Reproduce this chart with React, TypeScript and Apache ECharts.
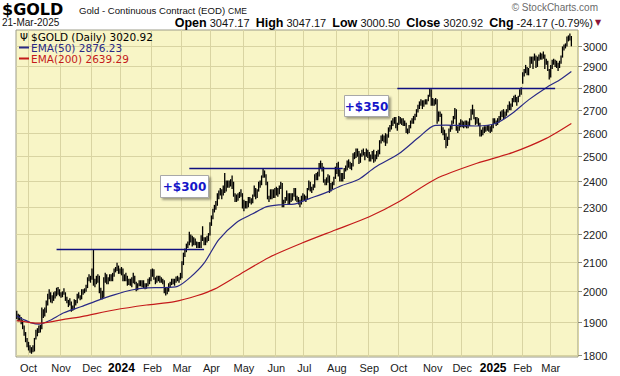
import React, { useEffect, useRef } from "react";
import * as echarts from "echarts";

// ---- data ----
const monthKeys = [
  "2023-09", "2023-10", "2023-11", "2023-12", "2024-01", "2024-02", "2024-03",
  "2024-04", "2024-05", "2024-06", "2024-07", "2024-08", "2024-09", "2024-10",
  "2024-11", "2024-12", "2025-01", "2025-02", "2025-03",
];
const firstTradingDay = "2023-09-20";
const holidays = [
  "2023-11-23", "2023-12-25", "2024-01-01", "2024-01-15", "2024-02-19", "2024-03-29",
  "2024-05-27", "2024-06-19", "2024-07-04", "2024-09-02", "2024-11-28", "2024-12-25",
  "2025-01-01", "2025-01-09", "2025-01-20", "2025-02-17",
];

const highs: number[][] = [
  [1935, 1925, 1922, 1915, 1905, 1888, 1868, 1850],
  [1838, 1828, 1822, 1828, 1850, 1875, 1880, 1888, 1890, 1945, 1940, 1945, 1968, 1990, 2005, 1995, 1985, 1995, 1998, 2010, 2012, 2005],
  [1995, 1998, 2008, 1995, 1980, 1970, 1975, 1965, 1952, 1972, 1970, 1990, 1995, 1985, 2005, 2005, 2008, 2020, 2045, 2055, 2050],
  [2075, 2140, 2040, 2050, 2055, 2050, 2010, 2000, 2045, 2060, 2055, 2045, 2055, 2055, 2060, 2075, 2080, 2095, 2085, 2075],
  [2080, 2075, 2055, 2060, 2050, 2040, 2040, 2045, 2060, 2050, 2030, 2025, 2035, 2035, 2035, 2035, 2025, 2025, 2040, 2045, 2072],
  [2075, 2072, 2045, 2050, 2050, 2050, 2045, 2040, 2035, 2010, 2010, 2025, 2030, 2040, 2040, 2040, 2048, 2050, 2045, 2060],
  [2100, 2130, 2145, 2162, 2170, 2205, 2195, 2190, 2185, 2180, 2170, 2168, 2168, 2192, 2225, 2185, 2185, 2190, 2200, 2240],
  [2265, 2290, 2305, 2320, 2350, 2360, 2370, 2365, 2380, 2430, 2400, 2400, 2400, 2405, 2420, 2395, 2350, 2345, 2350, 2355, 2365, 2350],
  [2325, 2320, 2320, 2335, 2335, 2330, 2345, 2380, 2370, 2365, 2395, 2400, 2420, 2450, 2440, 2425, 2395, 2340, 2365, 2365, 2365, 2370],
  [2375, 2370, 2380, 2395, 2390, 2325, 2335, 2360, 2350, 2350, 2350, 2350, 2370, 2370, 2340, 2335, 2325, 2340, 2350],
  [2345, 2340, 2370, 2400, 2395, 2375, 2385, 2425, 2430, 2435, 2470, 2480, 2470, 2455, 2405, 2412, 2425, 2420, 2390, 2395, 2415, 2455],
  [2470, 2475, 2445, 2430, 2430, 2450, 2460, 2480, 2485, 2475, 2470, 2510, 2515, 2530, 2530, 2520, 2510, 2525, 2530, 2515, 2530, 2525],
  [2515, 2505, 2520, 2525, 2505, 2520, 2525, 2565, 2585, 2590, 2585, 2595, 2590, 2620, 2630, 2650, 2660, 2665, 2665, 2640],
  [2670, 2665, 2660, 2660, 2650, 2640, 2615, 2630, 2650, 2660, 2670, 2680, 2700, 2720, 2735, 2745, 2740, 2740, 2745, 2745, 2765, 2795, 2790],
  [2750, 2745, 2750, 2745, 2690, 2690, 2680, 2620, 2610, 2595, 2580, 2615, 2630, 2650, 2670, 2705, 2700, 2625, 2640, 2655],
  [2650, 2645, 2650, 2650, 2645, 2660, 2700, 2720, 2700, 2665, 2665, 2660, 2640, 2610, 2620, 2625, 2625, 2630, 2630, 2625, 2630],
  [2660, 2660, 2650, 2660, 2670, 2690, 2695, 2700, 2690, 2700, 2720, 2735, 2725, 2750, 2760, 2765, 2755, 2760, 2790, 2800],
  [2870, 2885, 2905, 2895, 2890, 2945, 2945, 2945, 2960, 2950, 2945, 2955, 2965, 2960, 2970, 2955, 2935, 2925, 2885],
  [2905, 2930, 2935, 2930, 2925, 2915, 2925, 2950, 2995, 3005, 3010, 3045, 3050, 3060, 3047.17],
];
const lows: number[][] = [
  [1912, 1905, 1906, 1895, 1880, 1860, 1840, 1825],
  [1815, 1808, 1805, 1810, 1812, 1848, 1858, 1868, 1870, 1880, 1915, 1920, 1932, 1955, 1975, 1965, 1962, 1970, 1978, 1985, 1990, 1985],
  [1980, 1982, 1990, 1970, 1962, 1950, 1955, 1935, 1938, 1942, 1955, 1962, 1978, 1972, 1975, 1990, 1995, 2000, 2012, 2035, 2030],
  [2040, 2020, 2015, 2025, 2030, 1995, 1975, 1975, 1980, 2030, 2025, 2025, 2035, 2035, 2035, 2050, 2065, 2070, 2060, 2060],
  [2055, 2035, 2035, 2035, 2020, 2022, 2020, 2015, 2028, 2025, 2002, 2005, 2018, 2018, 2015, 2012, 2008, 2010, 2018, 2025, 2035],
  [2050, 2040, 2025, 2030, 2035, 2030, 2030, 2025, 1995, 1988, 1992, 2000, 2015, 2022, 2025, 2020, 2030, 2035, 2030, 2040],
  [2045, 2090, 2118, 2135, 2150, 2160, 2170, 2155, 2160, 2160, 2150, 2150, 2150, 2150, 2175, 2160, 2160, 2170, 2175, 2195],
  [2230, 2255, 2280, 2290, 2305, 2330, 2345, 2330, 2345, 2355, 2360, 2375, 2375, 2380, 2370, 2340, 2320, 2320, 2325, 2335, 2340, 2295],
  [2285, 2295, 2295, 2300, 2315, 2310, 2315, 2340, 2330, 2335, 2360, 2375, 2385, 2415, 2415, 2385, 2330, 2320, 2330, 2330, 2335, 2335],
  [2345, 2340, 2350, 2370, 2300, 2300, 2315, 2325, 2310, 2310, 2320, 2325, 2340, 2325, 2320, 2310, 2300, 2310, 2325],
  [2325, 2320, 2330, 2365, 2360, 2355, 2365, 2375, 2405, 2405, 2420, 2450, 2440, 2395, 2385, 2385, 2395, 2355, 2360, 2370, 2385, 2410],
  [2430, 2420, 2400, 2400, 2400, 2410, 2440, 2445, 2455, 2450, 2445, 2460, 2490, 2495, 2500, 2470, 2475, 2500, 2505, 2485, 2500, 2495],
  [2480, 2480, 2490, 2475, 2480, 2490, 2500, 2510, 2555, 2565, 2560, 2545, 2555, 2580, 2605, 2615, 2630, 2640, 2620, 2610],
  [2635, 2640, 2635, 2630, 2630, 2600, 2595, 2600, 2620, 2640, 2640, 2655, 2670, 2690, 2705, 2720, 2705, 2715, 2725, 2725, 2740, 2760, 2720],
  [2720, 2720, 2725, 2640, 2650, 2670, 2600, 2590, 2570, 2535, 2545, 2570, 2605, 2615, 2640, 2660, 2610, 2600, 2610, 2625],
  [2625, 2620, 2625, 2620, 2620, 2630, 2655, 2680, 2660, 2635, 2640, 2630, 2585, 2585, 2590, 2600, 2605, 2610, 2605, 2600, 2605],
  [2620, 2640, 2630, 2635, 2645, 2655, 2670, 2660, 2665, 2675, 2690, 2700, 2700, 2715, 2735, 2735, 2720, 2735, 2760, 2770],
  [2820, 2855, 2870, 2860, 2860, 2895, 2915, 2890, 2930, 2895, 2900, 2930, 2935, 2935, 2940, 2890, 2910, 2880, 2840],
  [2850, 2890, 2910, 2900, 2895, 2880, 2895, 2915, 2945, 2980, 2990, 3000, 3025, 3030, 3000.5],
];

const ema50: [string, number][] = [
  ["2023-09-20", 1920], ["2023-09-27", 1908], ["2023-10-04", 1898], ["2023-10-11", 1894],
  ["2023-10-20", 1905], ["2023-11-03", 1930], ["2023-11-21", 1950], ["2023-12-07", 1970],
  ["2023-12-22", 1988], ["2024-01-11", 2004], ["2024-01-26", 2011], ["2024-02-09", 2012],
  ["2024-02-27", 2016], ["2024-03-11", 2048], ["2024-03-22", 2095], ["2024-04-08", 2178],
  ["2024-04-24", 2241], ["2024-05-09", 2273], ["2024-05-22", 2299], ["2024-06-05", 2307],
  ["2024-06-21", 2311], ["2024-07-05", 2330], ["2024-07-23", 2355], ["2024-08-06", 2381],
  ["2024-08-22", 2407], ["2024-09-09", 2455], ["2024-10-01", 2510], ["2024-10-21", 2582],
  ["2024-11-04", 2630], ["2024-11-14", 2632], ["2024-12-02", 2630], ["2024-12-16", 2628],
  ["2025-01-06", 2640], ["2025-01-23", 2684], ["2025-02-07", 2744], ["2025-02-26", 2800],
  ["2025-03-11", 2836], ["2025-03-21", 2876.23],
];
const ema200: [string, number][] = [
  ["2023-09-20", 1905], ["2023-10-11", 1897], ["2023-11-03", 1909], ["2023-11-21", 1918],
  ["2023-12-22", 1939], ["2024-01-26", 1955], ["2024-02-23", 1966], ["2024-03-15", 1985],
  ["2024-04-03", 2007], ["2024-04-24", 2050], ["2024-05-24", 2115], ["2024-06-27", 2165],
  ["2024-07-31", 2213], ["2024-09-03", 2262], ["2024-10-01", 2319], ["2024-11-05", 2408],
  ["2024-12-16", 2471], ["2025-01-23", 2515], ["2025-02-26", 2575], ["2025-03-21", 2639.29],
];

const resistance: [string, string, number][] = [
  ["2023-10-27", "2024-03-22", 2146],
  ["2024-03-08", "2024-08-07", 2450],
  ["2024-09-30", "2025-03-06", 2800],
];

const yTicks = [1800, 1900, 2000, 2100, 2200, 2300, 2400, 2500, 2600, 2700, 2800, 2900, 3000];
const monthNames = ["Jan", "Feb", "Mar", "Apr", "May", "Jun", "Jul", "Aug", "Sep", "Oct", "Nov", "Dec"];

const headerValues = { open: "3047.17", high: "3047.17", low: "3000.50", close: "3020.92", chg: "-24.17", pct: "(-0.79%)" };
const legendTexts = ["$GOLD (Daily) 3020.92", "EMA(50) 2876.23", "EMA(200) 2639.29"];

// ---- styles ----
const PLOT_BG = "#f8f5c6";
const GRID_COLOR = "#d9d4a2";
const EMA50_COLOR = "#2a2a86";
const EMA200_COLOR = "#c41a1a";
const LINE_COLOR = "#101080";
const PAD_CATS = 4;

function buildDates(): string[] {
  const out: string[] = [];
  monthKeys.forEach((mk, i) => {
    const [y, m] = mk.split("-").map(Number);
    const n = highs[i].length;
    let d = i === 0 ? Number(firstTradingDay.slice(8)) : 1;
    let c = 0;
    while (c < n) {
      const dt = new Date(Date.UTC(y, m - 1, d));
      const dow = dt.getUTCDay();
      const s = dt.toISOString().slice(0, 10);
      if (dow !== 0 && dow !== 6 && !holidays.includes(s)) {
        out.push(s);
        c++;
      }
      d++;
    }
  });
  return out;
}

export default function App() {
  const ref = useRef<HTMLDivElement>(null);
  useEffect(() => {
    if (!ref.current) return;
    const chart = echarts.init(ref.current, undefined, { renderer: "svg" });
    const dates = buildDates();
    const cats = [...dates];
    for (let i = 0; i < PAD_CATS; i++) cats.push("pad" + i);
    const idxOf = (d: string) => {
      const i = dates.findIndex((x) => x >= d);
      return i < 0 ? dates.length - 1 : i;
    };
    const flatHi = highs.flat();
    const flatLo = lows.flat();
    const bars = dates.map((_, i) => [i, flatLo[i], flatHi[i]]);
    const monthStarts = new Set<number>();
    dates.forEach((d, i) => {
      if (i > 0 && d.slice(0, 7) !== dates[i - 1].slice(0, 7)) monthStarts.add(i);
    });
    const FONT = '"Liberation Sans", Arial, sans-serif';
    const VFONT = '"DejaVu Sans", Verdana, sans-serif';
    const mid = { verticalAlign: "middle", textVerticalAlign: "middle" };

    const option: any = {
      animation: false,
      grid: {
        left: 16, right: 42, top: 30, bottom: 19, show: true,
        backgroundColor: PLOT_BG, borderColor: "#9c9c8a", borderWidth: 1,
        containLabel: false, outerBoundsMode: "none",
      },
      xAxis: {
        type: "category",
        data: cats,
        boundaryGap: true,
        axisLine: { show: false },
        axisTick: { show: false },
        splitLine: {
          show: true,
          interval: (i: number) => monthStarts.has(i),
          lineStyle: { color: GRID_COLOR, width: 1 },
        },
        axisLabel: {
          interval: (i: number) => monthStarts.has(i),
          margin: 5,
          fontSize: 11,
          fontFamily: FONT,
          color: "#1a1a1a",
          formatter: (v: string) => {
            if (!v || v.startsWith("pad")) return "";
            const m = Number(v.slice(5, 7));
            if (m === 1) return "{y|" + v.slice(0, 4) + "}";
            return monthNames[m - 1];
          },
          rich: { y: { fontWeight: "bold", fontSize: 12, fontFamily: FONT, color: "#000" } },
        },
      },
      yAxis: {
        type: "log",
        logBase: 10,
        min: 1794,
        max: 3080,
        position: "right",
        axisLine: { show: false },
        axisTick: { show: false },
        axisLabel: { show: false },
        splitLine: { show: false },
      },
      series: [
        {
          type: "custom",
          name: "ygrid",
          z: 1,
          clip: false,
          silent: true,
          data: yTicks.map((v) => [0, v]),
          encode: { x: 0, y: 1 },
          renderItem: (params: any, api: any) => {
            const cs = params.coordSys;
            const y = Math.round(api.coord([0, api.value(1)])[1]) + 0.5;
            const xr = cs.x + cs.width;
            return {
              type: "group",
              children: [
                { type: "line", shape: { x1: cs.x, y1: y, x2: xr, y2: y }, style: { stroke: GRID_COLOR, lineWidth: 1 } },
                { type: "line", shape: { x1: xr, y1: y, x2: xr + 4, y2: y }, style: { stroke: "#8a8a7a", lineWidth: 1 } },
                {
                  type: "text", x: xr + 5, y: y,
                  style: {
                    text: String(api.value(1)), font: "11px " + FONT, fill: "#222",
                    align: "left", textAlign: "left", ...mid,
                  },
                },
              ],
            };
          },
        },
        {
          type: "custom",
          name: "$GOLD",
          z: 3,
          silent: true,
          data: bars,
          encode: { x: 0, y: [1, 2] },
          renderItem: (params: any, api: any) => {
            const p1 = api.coord([api.value(0), api.value(1)]);
            const p2 = api.coord([api.value(0), api.value(2)]);
            return {
              type: "line",
              shape: { x1: p1[0], y1: p1[1] + 0.5, x2: p1[0], y2: p2[1] - 0.5 },
              style: { stroke: "#000", lineWidth: 1.3 },
            };
          },
        },
        {
          type: "line",
          name: "EMA(50)",
          z: 4,
          silent: true,
          showSymbol: false,
          smooth: 0.25,
          data: ema50.map(([d, v]) => [idxOf(d), v]),
          lineStyle: { color: EMA50_COLOR, width: 1.2 },
        },
        {
          type: "line",
          name: "EMA(200)",
          z: 4,
          silent: true,
          showSymbol: false,
          smooth: 0.25,
          data: ema200.map(([d, v]) => [idxOf(d), v]),
          lineStyle: { color: EMA200_COLOR, width: 1.2 },
        },
        {
          type: "custom",
          name: "resistance",
          z: 5,
          silent: true,
          data: resistance.map(([a, b, v]) => [idxOf(a), idxOf(b), v]),
          encode: { x: [0, 1], y: 2 },
          renderItem: (params: any, api: any) => {
            const p1 = api.coord([api.value(0), api.value(2)]);
            const p2 = api.coord([api.value(1), api.value(2)]);
            const y = Math.round(p1[1]) + 0.5;
            return {
              type: "line",
              shape: { x1: p1[0], y1: y, x2: p2[0], y2: y },
              style: { stroke: LINE_COLOR, lineWidth: 1.4 },
            };
          },
        },
      ],
      graphic: [
        { type: "text", x: 2, y: 9, style: { text: "$GOLD", font: "bold 16px " + VFONT, fill: "#000", ...mid } },
        { type: "text", x: 79, y: 10, style: { text: "Gold - Continuous Contract (EOD)", font: "9.6px " + FONT, fill: "#111", ...mid } },
        { type: "text", x: 228, y: 10.5, style: { text: "CME", font: "8.5px " + FONT, fill: "#111", ...mid } },
        { type: "text", x: 2, y: 22.5, style: { text: "21-Mar-2025", font: "10px " + FONT, fill: "#111", ...mid } },
        {
          type: "text", x: 593, y: 22.5,
          style: {
            text: "{b|Open} {n|" + headerValues.open + "}  {b|High} {n|" + headerValues.high + "}  {b|Low} {n|" + headerValues.low +
              "}  {b|Close} {n|" + headerValues.close + "}  {b|Chg} {n|" + headerValues.chg + " " + headerValues.pct + "}",
            align: "right", textAlign: "right", ...mid,
            font: "11px " + FONT, fill: "#111",
            rich: {
              b: { fontWeight: "bold", fontSize: 12.5, fontFamily: FONT, fill: "#000" },
              n: { fontSize: 11, fontFamily: FONT, fill: "#111" },
            },
          },
        },
        { type: "text", x: 595, y: 22.5, style: { text: "▼", font: "8px " + VFONT, fill: "#8b1538", ...mid } },
        { type: "text", x: 598, y: 7, style: { text: "© StockCharts.com", font: "10px " + FONT, fill: "#6a6a6a", align: "right", textAlign: "right", ...mid } },
        // legend
        { type: "text", x: 20, y: 37, z: 10, style: { text: "Ψ", font: "10px " + VFONT, fill: "#000", ...mid } },
        { type: "line", z: 10, shape: { x1: 19, y1: 47.5, x2: 29, y2: 47.5 }, style: { stroke: EMA50_COLOR, lineWidth: 2 } },
        { type: "line", z: 10, shape: { x1: 19, y1: 58.5, x2: 29, y2: 58.5 }, style: { stroke: EMA200_COLOR, lineWidth: 2 } },
        {
          type: "text", x: 31, y: 32, z: 10,
          style: {
            text: "{k|" + legendTexts[0] + "}\n{b|" + legendTexts[1] + "}\n{r|" + legendTexts[2] + "}",
            font: "10.5px " + VFONT,
            verticalAlign: "top", textVerticalAlign: "top",
            rich: {
              k: { fontSize: 10.5, fontFamily: VFONT, fill: "#000", lineHeight: 10.7 },
              b: { fontSize: 10.5, fontFamily: VFONT, fill: EMA50_COLOR, lineHeight: 10.7 },
              r: { fontSize: 10.5, fontFamily: VFONT, fill: EMA200_COLOR, lineHeight: 10.7 },
            },
          },
        },
        // annotations
        { type: "rect", z: 10, shape: { x: 160.5, y: 175.5, width: 48, height: 22 }, style: { fill: "#fff", stroke: "#a8a8a8", lineWidth: 1, shadowBlur: 2, shadowOffsetX: 2, shadowOffsetY: 2, shadowColor: "rgba(0,0,0,0.35)" } },
        { type: "text", z: 11, x: 184.5, y: 187, style: { text: "+$300", font: "bold 12px " + VFONT, fill: "#1515c8", align: "center", textAlign: "center", ...mid } },
        { type: "rect", z: 10, shape: { x: 344.5, y: 95.5, width: 44, height: 21 }, style: { fill: "#fff", stroke: "#a8a8a8", lineWidth: 1, shadowBlur: 2, shadowOffsetX: 2, shadowOffsetY: 2, shadowColor: "rgba(0,0,0,0.35)" } },
        { type: "text", z: 11, x: 366.5, y: 106.5, style: { text: "+$350", font: "bold 12px " + VFONT, fill: "#1515c8", align: "center", textAlign: "center", ...mid } },
      ],
    };
    chart.setOption(option);
    return () => chart.dispose();
  }, []);
  return (
    <div
      ref={ref}
      style={{ position: "fixed", left: 0, top: 0, width: 620, height: 376, background: "#fff" }}
    />
  );
}
